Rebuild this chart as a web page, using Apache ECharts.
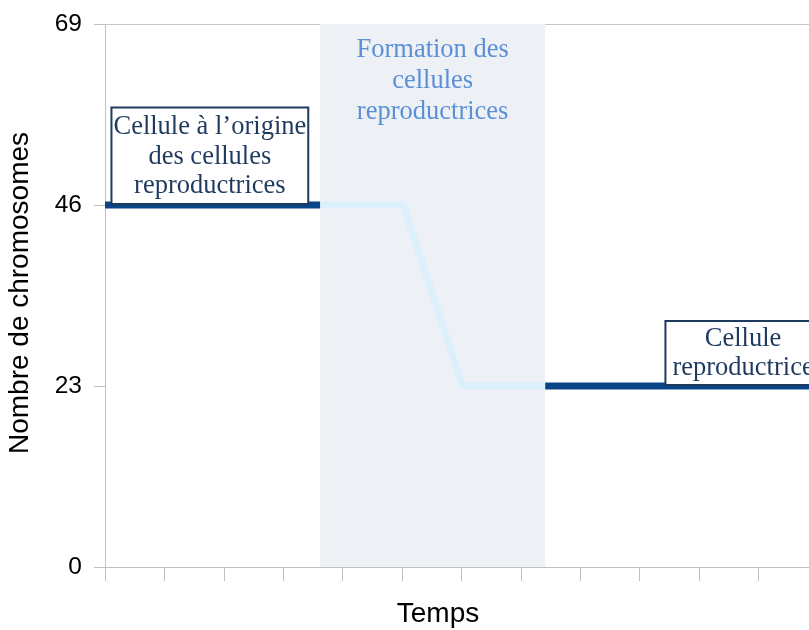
<!DOCTYPE html>
<html><head><meta charset="utf-8">
<script src="https://cdn.jsdelivr.net/npm/echarts@6/dist/echarts.min.js"></script>
<style>html,body{margin:0;padding:0;background:#fff}#c{width:809px;height:630px}</style>
</head><body><div id="c"></div>
<script>
const yTicks = [0, 23, 46, 69];
const darkBefore = [[0, 46], [3.62, 46]];
const transition = [[3.62, 46], [5.02, 46], [6.02, 23], [7.41, 23]];
const darkAfter = [[7.41, 23], [11.85, 23]];
const shadeRange = [3.62, 7.41];
const labelOrigin = ['Cellule à l\u2019origine', 'des cellules', 'reproductrices'];
const labelFormation = ['Formation des', 'cellules', 'reproductrices'];
const labelGamete = ['Cellule', 'reproductrice'];
const originPos = [1.765, 46];
const gametePos = [10.74, 23];

const dark = '#0a4687';
const serif = '"Liberation Serif", "DejaVu Serif", serif';
const sans = '"Liberation Sans", Arial, sans-serif';
const boxLabel = {
  show: true, position: 'top', distance: 2,
  color: '#1f3a5f', fontFamily: serif, fontSize: 26.5, lineHeight: 29.5,
  align: 'center', backgroundColor: '#fff', borderColor: '#1f3a5f', borderWidth: 2
};

const chart = echarts.init(document.getElementById('c'), null, {renderer: 'canvas'});
chart.setOption({
  animation: false,
  grid: {left: 105, right: 0, top: 24, bottom: 63, containLabel: false, outerBoundsMode: 'none'},
  xAxis: [{
    type: 'value', min: 0, max: 11.85, interval: 1,
    name: 'Temps', nameLocation: 'middle', nameGap: 33,
    nameTextStyle: {fontFamily: sans, fontSize: 28, color: '#000', padding: [0, 38, 0, 0]},
    axisLine: {lineStyle: {color: '#c0c0c0', width: 1}},
    axisTick: {show: true, length: 14, lineStyle: {color: '#c0c0c0'}},
    axisLabel: {show: false}, splitLine: {show: false}
  }, {
    type: 'value', min: 0, max: 11.85, position: 'top',
    axisLine: {show: true, lineStyle: {color: '#c8c8c8', width: 1}},
    axisTick: {show: false}, axisLabel: {show: false}, splitLine: {show: false}
  }],
  yAxis: {
    type: 'value', min: 0, max: 69, interval: 23,
    name: 'Nombre de chromosomes', nameLocation: 'middle', nameGap: 71,
    nameTextStyle: {fontFamily: sans, fontSize: 28, color: '#000', padding: [0, 0, 0, 5]},
    axisLine: {show: true, lineStyle: {color: '#c0c0c0', width: 1}},
    axisTick: {show: true, length: 11, lineStyle: {color: '#c0c0c0'}},
    axisLabel: {fontFamily: sans, fontSize: 24.5, color: '#000', margin: 23,
      formatter: v => yTicks.includes(v) ? String(v) : ''},
    splitLine: {show: false}
  },
  series: [
    {
      type: 'line', data: transition, symbol: 'none',
      lineStyle: {color: '#dcf0fb', width: 7},
      markArea: {
        silent: true,
        itemStyle: {color: '#edf0f4'},
        label: {show: true, position: 'insideTop', distance: 11,
          formatter: labelFormation.join('\n'),
          color: '#5b8fd8', fontFamily: serif, fontSize: 26.5, lineHeight: 31, align: 'center'},
        data: [[{xAxis: shadeRange[0]}, {xAxis: shadeRange[1]}]]
      },
      z: 2
    },
    {
      type: 'line', data: darkBefore, symbol: 'none',
      lineStyle: {color: dark, width: 7, cap: 'butt'}, z: 3,
      markPoint: {symbol: 'circle', symbolSize: 0,
        label: Object.assign({formatter: labelOrigin.join('\n'), padding: [4, 1, 2, 1]}, boxLabel),
        data: [{coord: originPos}]}
    },
    {
      type: 'line', data: darkAfter, symbol: 'none',
      lineStyle: {color: dark, width: 7, cap: 'butt'}, z: 3,
      markPoint: {symbol: 'circle', symbolSize: 0,
        label: Object.assign({formatter: labelGamete.join('\n'), padding: [2, 6, 1, 6]}, boxLabel),
        data: [{coord: gametePos}]}
    }
  ]
});
</script></body></html>
